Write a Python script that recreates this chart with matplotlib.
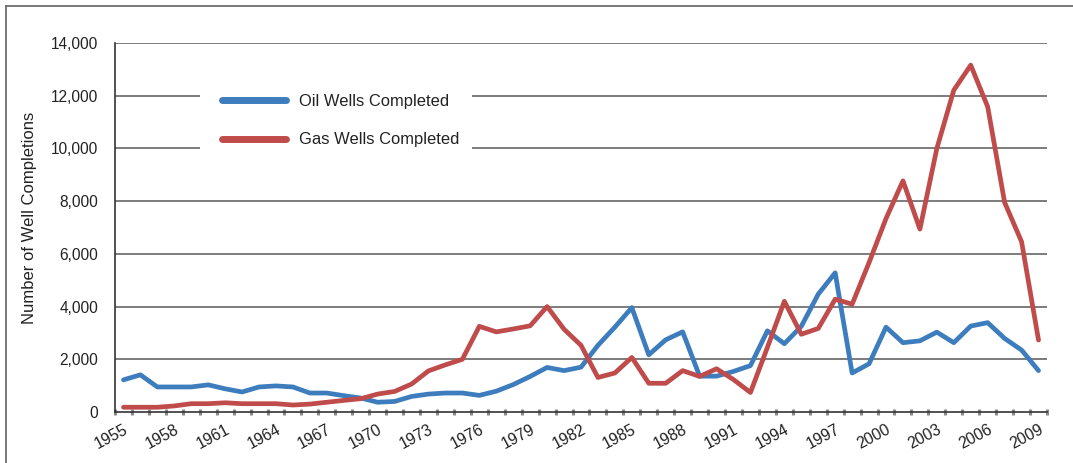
import matplotlib
matplotlib.use("Agg")
import matplotlib.pyplot as plt
from matplotlib.patches import Rectangle
from matplotlib.lines import Line2D
import numpy as np

years = list(range(1955, 2010))
oil_wells = [1220, 1410, 950, 950, 950, 1030, 880, 760, 950, 990,
             950, 720, 720, 620, 530, 370, 400, 590, 680, 720,
             720, 630, 790, 1040, 1350, 1690, 1570, 1700, 2530, 3220,
             3960, 2170, 2740, 3040, 1360, 1360, 1540, 1760, 3080, 2590,
             3250, 4470, 5280, 1480, 1830, 3220, 2630, 2700, 3030, 2630,
             3260, 3390, 2790, 2350, 1570]
gas_wells = [180, 180, 180, 230, 315, 315, 350, 315, 315, 315,
             265, 300, 370, 440, 505, 680, 780, 1060, 1560, 1790,
             2000, 3250, 3040, 3150, 3270, 4000, 3140, 2530, 1310, 1480,
             2070, 1090, 1090, 1570, 1350, 1640, 1230, 740, 2450, 4200,
             2950, 3170, 4280, 4090, 5670, 7340, 8770, 6940, 10000, 12210,
             13160, 11580, 7950, 6460, 2730]
series_labels = ["Oil Wells Completed", "Gas Wells Completed"]
y_ticks = [0, 2000, 4000, 6000, 8000, 10000, 12000, 14000]
y_label = "Number of Well Completions"

plt.rcParams['font.family'] = ['Liberation Sans', 'DejaVu Sans']

W, H = 1073, 463
dpi = 100
fig = plt.figure(figsize=(W / dpi, H / dpi), dpi=dpi)
fig.patch.set_facecolor('white')

# outer frame (left and top visible)
fig.add_artist(Line2D([6 / W, 6 / W], [0, 1 - 6 / H], transform=fig.transFigure,
                      color='#6e6e6e', lw=1.3))
fig.add_artist(Line2D([6 / W, 1], [1 - 6 / H, 1 - 6 / H], transform=fig.transFigure,
                      color='#6e6e6e', lw=1.3))

left, right, top, bottom = 115, 1047, 43, 412
ax = fig.add_axes([left / W, 1 - bottom / H, (right - left) / W, (bottom - top) / H])

x = np.arange(len(years))
blue = '#3d7dbe'
red = '#c04b4b'

for yv in y_ticks[1:]:
    ax.axhline(yv, color='#666666', lw=1.2, zorder=1)

ax.plot(x, oil_wells, color=blue, lw=3.4, solid_joinstyle='round',
        solid_capstyle='round', zorder=4)
ax.plot(x, gas_wells, color=red, lw=3.4, solid_joinstyle='round',
        solid_capstyle='round', zorder=4)

ax.set_xlim(-0.5, len(years) - 0.5)
ax.set_ylim(0, 14000)

ax.set_yticks(y_ticks)
ax.set_yticklabels([f"{v:,}" for v in y_ticks], fontsize=11.2, color='#222222')
ax.tick_params(axis='y', length=0, pad=12)

major = x[::3]
ax.set_xticks(major)
ax.set_xticklabels([str(years[i]) for i in major], fontsize=11.4, color='#222222',
                   rotation=28, ha='right', va='top', rotation_mode='anchor')
ax.set_xticks(np.arange(-0.5, len(years), 1.0), minor=True)
ax.tick_params(axis='x', which='major', length=0, pad=7)
ax.tick_params(axis='x', which='minor', length=5, width=2.2, direction='inout',
               color='#8a8a8a')

for s in ['top', 'right']:
    ax.spines[s].set_visible(False)
ax.spines['left'].set_color('#333333')
ax.spines['bottom'].set_color('#333333')
ax.spines['left'].set_linewidth(1.2)
ax.spines['bottom'].set_linewidth(1.2)

ax.set_ylabel(y_label, fontsize=12, color='#222222')
ax.yaxis.set_label_coords(-(left - 37) / (right - left), 0.5 + 10 / (bottom - top))

# white box behind legend, interrupting gridlines
fig.add_artist(Rectangle((200 / W, 1 - 165 / H), (472 - 200) / W, (165 - 80) / H,
                         transform=fig.transFigure, facecolor='white',
                         edgecolor='none', zorder=2))

handles = [Line2D([0], [0], color=blue, lw=5, solid_capstyle='round'),
           Line2D([0], [0], color=red, lw=5, solid_capstyle='round')]
leg = fig.legend(handles, series_labels, loc='upper left',
                 bbox_to_anchor=(222 / W, 1 - 94 / H), frameon=False,
                 fontsize=11.9, handlelength=3.9, handletextpad=0.75,
                 labelspacing=1.42, borderpad=0, borderaxespad=0)
for t in leg.get_texts():
    t.set_color('#222222')
leg.set_zorder(5)

fig.savefig('out.png', dpi=dpi, facecolor='white')
